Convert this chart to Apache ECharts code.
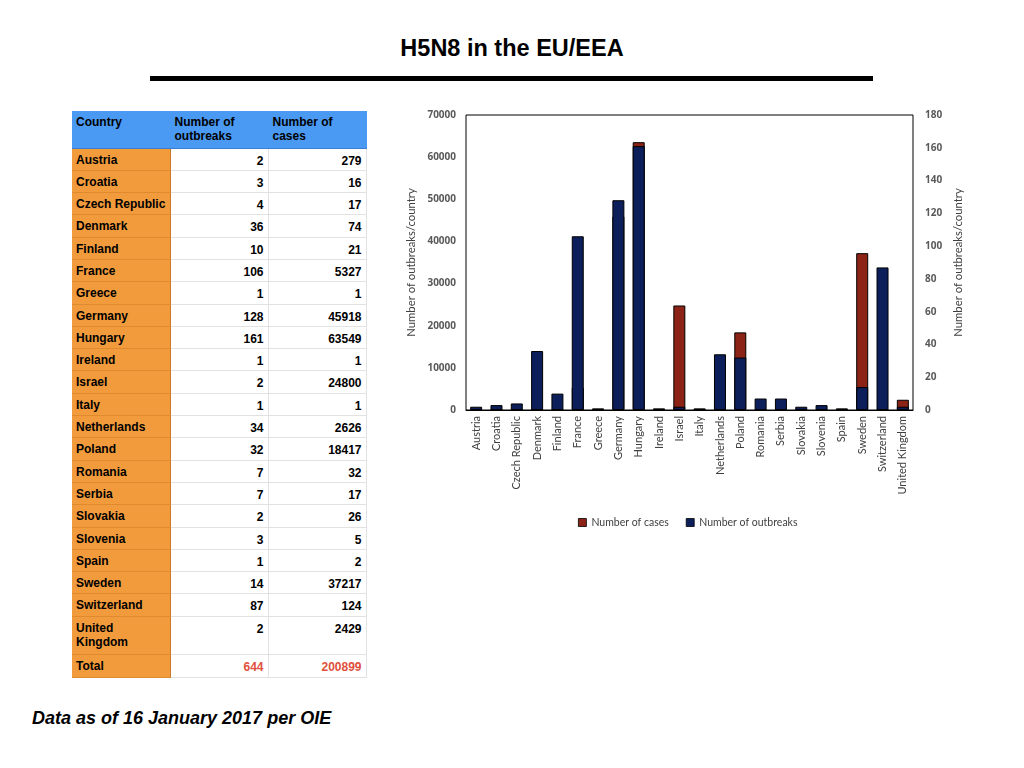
<!DOCTYPE html>
<html>
<head>
<meta charset="utf-8">
<script src="https://cdn.jsdelivr.net/npm/echarts@6.0.0/dist/echarts.min.js"></script>
<style>
  body { margin: 0; width: 1024px; height: 768px; background: #fff; position: relative; overflow: hidden; font-family: "Liberation Sans", Arial, sans-serif; }
  #title { position: absolute; left: 0; width: 1024px; top: 35px; text-align: center; font-weight: bold; font-size: 23.5px; color: #000; }
  #rule { position: absolute; left: 150px; top: 76px; width: 723px; height: 5px; background: #000; }
  #tbl { position: absolute; left: 72px; top: 111px; border-collapse: collapse; table-layout: fixed; font-size: 12px; font-weight: bold; }
  #tbl td { width: 98px; padding: 0 4px; box-sizing: border-box; vertical-align: top; line-height: 14px; border-bottom: 1px solid #e2e2e2; border-right: 1px solid #e2e2e2; }
  #tbl tr.head td { background: #4a9af3; height: 37px; padding-top: 4px; border-color: #4a9af3; border-bottom: 1px solid #3c7fd0; }
  #tbl td.country { background: #f29b3c; border-right: 1px solid #c7792a; border-bottom: 1px solid #e08a30; padding-top: 4px; }
  #tbl td.num { text-align: right; padding-top: 5px; }
  #tbl tr.total td.num { color: #e0503c; }
  #foot { position: absolute; left: 32px; top: 708px; font-size: 18px; font-weight: bold; font-style: italic; }
  #chart { position: absolute; left: 380px; top: 95px; width: 644px; height: 450px; }
</style>
</head>
<body>
<div id="title">H5N8 in the EU/EEA</div>
<div id="rule"></div>
<table id="tbl"></table>
<div id="foot">Data as of 16 January 2017 per OIE</div>
<div id="chart"></div>
<script>
const countries = ['Austria', 'Croatia', 'Czech Republic', 'Denmark', 'Finland', 'France', 'Greece', 'Germany', 'Hungary', 'Ireland', 'Israel', 'Italy', 'Netherlands', 'Poland', 'Romania', 'Serbia', 'Slovakia', 'Slovenia', 'Spain', 'Sweden', 'Switzerland', 'United Kingdom'];
const outbreaks = [2, 3, 4, 36, 10, 106, 1, 128, 161, 1, 2, 1, 34, 32, 7, 7, 2, 3, 1, 14, 87, 2];
const cases = [279, 16, 17, 74, 21, 5327, 1, 45918, 63549, 1, 24800, 1, 2626, 18417, 32, 17, 26, 5, 2, 37217, 124, 2429];
const totalOutbreaks = 644;
const totalCases = 200899;

// table
function buildTable() {
    const tbl = document.getElementById('tbl');
    let html = '<tr class="head"><td>Country</td><td>Number of<br>outbreaks</td><td>Number of<br>cases</td></tr>';
    countries.forEach((c, i) => {
        const tall = c === 'United Kingdom';
        const name = tall ? 'United<br>Kingdom' : c;
        html += `<tr style="height:${tall ? 38 : 22.3}px"><td class="country">${name}</td><td class="num">${outbreaks[i]}</td><td class="num">${cases[i]}</td></tr>`;
    });
    html += `<tr class="total" style="height:23px"><td class="country">Total</td><td class="num">${totalOutbreaks}</td><td class="num">${totalCases}</td></tr>`;
    tbl.innerHTML = html;
}
buildTable();

// chart
const chart = echarts.init(document.getElementById('chart'), null, { renderer: 'canvas' });
const axisLabelStyle = { color: '#595959', fontWeight: 'bold', fontSize: 10, fontFamily: 'Open Sans', formatter: v => String(v) };
const nameStyle = { fontSize: 11.3, color: '#404040', fontFamily: 'Lato' };
const option = {
    animation: false,
    textStyle: { fontFamily: 'Lato' },
    grid: { left: 86, right: 111, top: 20, height: 295, show: true, borderColor: '#000', borderWidth: 1 },
    legend: {
        left: 193, top: 417,
        icon: 'rect',
        itemWidth: 8, itemHeight: 8, itemGap: 17,
        textStyle: { fontSize: 10.5, color: '#404040', fontFamily: 'Lato' },
        data: [
            { name: 'Number of cases', itemStyle: { borderColor: '#000', borderWidth: 0.8 } },
            { name: 'Number of outbreaks', itemStyle: { borderColor: '#000', borderWidth: 0.8 } }
        ]
    },
    xAxis: {
        type: 'category',
        data: countries,
        axisLine: { lineStyle: { color: '#000' } },
        axisTick: { show: false },
        axisLabel: { rotate: 90, interval: 0, fontSize: 11, color: '#404040', fontFamily: 'Lato', margin: 6 }
    },
    yAxis: [
        {
            type: 'value', min: 0, max: 70000, interval: 10000,
            name: 'Number of outbreaks/country', nameLocation: 'middle', nameGap: 45,
            nameTextStyle: nameStyle,
            splitLine: { show: false }, axisLine: { show: false }, axisTick: { show: false },
            axisLabel: Object.assign({}, axisLabelStyle, { margin: 10 })
        },
        {
            type: 'value', min: 0, max: 180, interval: 20,
            name: 'Number of outbreaks/country', nameLocation: 'middle', nameGap: 37,
            nameTextStyle: nameStyle,
            splitLine: { show: false }, axisLine: { show: false }, axisTick: { show: false },
            axisLabel: Object.assign({}, axisLabelStyle, { margin: 12 })
        }
    ],
    series: [
        {
            name: 'Number of cases', type: 'bar', yAxisIndex: 0, data: cases,
            barWidth: 12,
            itemStyle: { color: '#8b2316', borderColor: '#000', borderWidth: 1 }
        },
        {
            name: 'Number of outbreaks', type: 'bar', yAxisIndex: 1, data: outbreaks,
            barWidth: 12, barGap: '-100%',
            itemStyle: { color: '#0c1f5a', borderColor: '#000', borderWidth: 1 }
        }
    ]
};
chart.setOption(option);
</script>
</body>
</html>
